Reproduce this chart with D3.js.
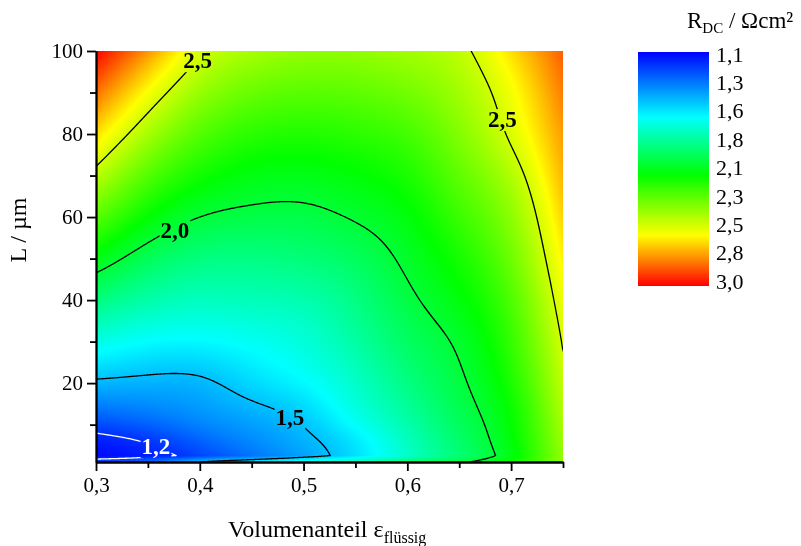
<!DOCTYPE html>
<html>
<head>
<meta charset="utf-8">
<script src="https://cdn.jsdelivr.net/npm/d3@7"></script>
<style>
  body { margin: 0; background: #fff; }
  #wrap { position: relative; width: 801px; height: 546px; }
  #wrap canvas, #wrap svg { position: absolute; left: 0; top: 0; }
  text { font-family: "Liberation Serif", "Times New Roman", serif; }
</style>
</head>
<body>
<div id="wrap">
  <canvas id="heat" width="801" height="546"></canvas>
  <svg id="chart" width="801" height="546"></svg>
</div>
<script>
// Liquid volume fraction (columns of the measurement grid)
const epsValues = [0.30, 0.35, 0.40, 0.45, 0.50, 0.55, 0.60, 0.65, 0.70, 0.75];
// Electrode thickness L in µm (rows of the grid)
const lengthValues = [1, 2.5, 6, 10, 20, 30, 40, 50, 60, 70, 80, 90, 100];

// R_DC in Ωcm² for each volume fraction, listed along lengthValues
const rdcEps030 = [1.27, 1.12, 1.16, 1.25, 1.48, 1.68, 1.87, 2.07, 2.27, 2.46, 2.64, 2.82, 3.00];
const rdcEps035 = [1.33, 1.16, 1.21, 1.30, 1.47, 1.63, 1.79, 1.94, 2.10, 2.26, 2.42, 2.58, 2.76];
const rdcEps040 = [1.50, 1.24, 1.30, 1.37, 1.48, 1.62, 1.75, 1.87, 2.00, 2.13, 2.26, 2.39, 2.52];
const rdcEps045 = [1.60, 1.34, 1.385, 1.43, 1.55, 1.65, 1.76, 1.86, 1.97, 2.07, 2.18, 2.30, 2.42];
const rdcEps050 = [1.69, 1.44, 1.47, 1.505, 1.62, 1.70, 1.78, 1.88, 1.97, 2.06, 2.16, 2.27, 2.38];
const rdcEps055 = [1.79, 1.565, 1.585, 1.64, 1.73, 1.80, 1.86, 1.93, 2.01, 2.09, 2.18, 2.28, 2.38];
const rdcEps060 = [1.885, 1.725, 1.75, 1.785, 1.86, 1.92, 1.975, 2.025, 2.08, 2.15, 2.23, 2.32, 2.41];
const rdcEps065 = [1.98, 1.885, 1.905, 1.93, 1.98, 2.02, 2.08, 2.14, 2.21, 2.28, 2.35, 2.41, 2.47];
const rdcEps070 = [2.12, 2.065, 2.085, 2.10, 2.15, 2.20, 2.25, 2.31, 2.37, 2.44, 2.52, 2.57, 2.64];
const rdcEps075 = [2.38, 2.38, 2.40, 2.42, 2.47, 2.51, 2.56, 2.61, 2.66, 2.71, 2.75, 2.80, 2.85];

// Contour levels and their printed labels
const contourLevels = [1.2, 1.5, 2.0, 2.5];
const contourLevelLabels = ["1,2", "1,5", "2,0", "2,5"];

// Axis ticks
const xTicks = [0.3, 0.4, 0.5, 0.6, 0.7];
const xTickLabels = ["0,3", "0,4", "0,5", "0,6", "0,7"];
const xMinorTicks = [0.35, 0.45, 0.55, 0.65, 0.75];
const yTicks = [20, 40, 60, 80, 100];
const yTickLabels = ["20", "40", "60", "80", "100"];
const yMinorTicks = [10, 30, 50, 70, 90];

// Colour bar levels
const colorbarTicks = [1.1, 1.3375, 1.575, 1.8125, 2.05, 2.2875, 2.525, 2.7625, 3.0];
const colorbarTickLabels = ["1,1", "1,3", "1,6", "1,8", "2,1", "2,3", "2,5", "2,8", "3,0"];
const colorStopValues = [1.1, 1.63, 2.1, 2.59, 3.0];
const colorStopColors = ["#0000ff", "#00ffff", "#00ff00", "#ffff00", "#ff0000"];

// ---------------------------------------------------------------------------
const rdcGrid = [rdcEps030, rdcEps035, rdcEps040, rdcEps045, rdcEps050,
                 rdcEps055, rdcEps060, rdcEps065, rdcEps070, rdcEps075];

const plot = { left: 96, right: 563, top: 51, bottom: 462 };
const x = d3.scaleLinear().domain([0.3, 0.75]).range([plot.left, plot.right]);
const y = d3.scaleLinear().domain([1, 100]).range([plot.bottom, plot.top]);
const color = d3.scaleLinear().domain(colorStopValues).range(colorStopColors).clamp(true);

// Natural cubic spline through (xs, ys)
function naturalSpline(xs, ys) {
  const n = xs.length, h = [], M = new Array(n).fill(0);
  for (let i = 0; i < n - 1; i++) h.push(xs[i + 1] - xs[i]);
  const a = [], b = [], c = [], r = [];
  for (let i = 1; i < n - 1; i++) {
    a.push(h[i - 1]); b.push(2 * (h[i - 1] + h[i])); c.push(h[i]);
    r.push(6 * ((ys[i + 1] - ys[i]) / h[i] - (ys[i] - ys[i - 1]) / h[i - 1]));
  }
  const m = b.length;
  for (let i = 1; i < m; i++) {
    const w = a[i] / b[i - 1];
    b[i] -= w * c[i - 1]; r[i] -= w * r[i - 1];
  }
  for (let i = m - 1; i >= 0; i--) {
    M[i + 1] = (r[i] - (i < m - 1 ? c[i] * M[i + 2] : 0)) / b[i];
  }
  return function (v) {
    v = Math.max(xs[0], Math.min(xs[n - 1], v));
    let k = 0;
    while (k < n - 2 && v > xs[k + 1]) k++;
    const hk = h[k], A = xs[k + 1] - v, B = v - xs[k];
    return M[k] * A * A * A / (6 * hk) + M[k + 1] * B * B * B / (6 * hk)
         + (ys[k] / hk - M[k] * hk / 6) * A + (ys[k + 1] / hk - M[k + 1] * hk / 6) * B;
  };
}

// Along L: straight segment for the thin-electrode edge row, spline above it
function columnCurve(col) {
  const upper = naturalSpline(lengthValues.slice(1), col.slice(1));
  const L0 = lengthValues[0], L1 = lengthValues[1];
  return function (L) {
    if (L >= L1) return upper(L);
    const t = Math.max(0, (L - L0) / (L1 - L0));
    return col[0] + t * (col[1] - col[0]);
  };
}
const columnCurves = rdcGrid.map(columnCurve);

// Sample the surface once per pixel, with a small margin around the plot
const pad = 3;
const x0 = plot.left - pad, y0 = plot.top - pad;
const nx = (plot.right - plot.left) + 2 * pad;
const ny = (plot.bottom - plot.top) + 2 * pad;
const field = new Float64Array(nx * ny);
for (let j = 0; j < ny; j++) {
  const L = y.invert(y0 + j + 0.5);
  const rowCurve = naturalSpline(epsValues, columnCurves.map(f => f(L)));
  for (let i = 0; i < nx; i++) {
    field[j * nx + i] = rowCurve(x.invert(x0 + i + 0.5));
  }
}

// Colour map on canvas
const ctx = document.getElementById("heat").getContext("2d");
const w = plot.right - plot.left, h = plot.bottom - plot.top;
const img = ctx.createImageData(w, h);
for (let j = 0; j < h; j++) {
  for (let i = 0; i < w; i++) {
    const c = d3.rgb(color(field[(j + pad) * nx + (i + pad)]));
    const p = (j * w + i) * 4;
    img.data[p] = c.r; img.data[p + 1] = c.g; img.data[p + 2] = c.b; img.data[p + 3] = 255;
  }
}
ctx.putImageData(img, plot.left, plot.top);

const svg = d3.select("#chart");
const defs = svg.append("defs");
defs.append("clipPath").attr("id", "plotClip")
  .append("rect").attr("x", plot.left).attr("y", plot.top).attr("width", w).attr("height", h);

// Contour labels (placed on their lines)
const labelSpots = [
  { level: 2.5, eps: 0.398, L: 97.8 },
  { level: 2.5, eps: 0.6917, L: 83.6 },
  { level: 2.0, eps: 0.3761, L: 57.0 },
  { level: 1.5, eps: 0.4869, L: 11.8 },
  { level: 1.2, eps: 0.3578, L: 4.85 }
];

const labelLayer = svg.append("g");
const labelNodes = labelLayer.selectAll("text").data(labelSpots).join("text")
  .attr("x", d => x(d.eps)).attr("y", d => y(d.L)).attr("dy", "0.35em")
  .attr("text-anchor", "middle")
  .attr("font-size", 23).attr("font-weight", "bold")
  .attr("fill", d => d.level === 1.2 ? "#fff" : "#000")
  .text(d => contourLevelLabels[contourLevels.indexOf(d.level)]);

// Gaps in the lines behind the labels
const mask = defs.append("mask").attr("id", "labelGaps").attr("maskUnits", "userSpaceOnUse")
  .attr("x", 0).attr("y", 0).attr("width", 801).attr("height", 546);
mask.append("rect").attr("width", 801).attr("height", 546).attr("fill", "#fff");
labelNodes.each(function () {
  const b = this.getBBox();
  mask.append("rect").attr("x", b.x - 1).attr("y", b.y + 2)
    .attr("width", b.width + 2).attr("height", b.height - 3).attr("fill", "#000");
});

const contours = d3.contours().size([nx, ny]).thresholds(contourLevels)(field);
const path = d3.geoPath(d3.geoIdentity().translate([x0, y0]));
svg.insert("g", () => labelLayer.node())
  .attr("clip-path", "url(#plotClip)")
  .append("g").attr("mask", "url(#labelGaps)")
  .selectAll("path").data(contours).join("path")
  .attr("d", path)
  .attr("fill", "none")
  .attr("stroke", d => d.value === 1.2 ? "#fff" : "#000")
  .attr("stroke-width", 1.3)
  .attr("stroke-linejoin", "round");

// Axes
function styleAxis(g) {
  g.selectAll("path, line").attr("stroke", "#000").attr("stroke-width", 1.8);
  g.selectAll("text").attr("fill", "#000").attr("font-size", 21)
    .attr("font-family", "\"Liberation Serif\", \"Times New Roman\", serif");
}
svg.append("g").attr("transform", `translate(0,${plot.bottom})`)
  .call(d3.axisBottom(x).tickValues(xMinorTicks).tickSize(6).tickSizeOuter(0).tickFormat(""))
  .call(styleAxis);
svg.append("g").attr("transform", `translate(0,${plot.bottom})`)
  .call(d3.axisBottom(x).tickValues(xTicks).tickSize(9).tickSizeOuter(0).tickPadding(6)
    .tickFormat((d, i) => xTickLabels[i]))
  .call(styleAxis);
svg.append("g").attr("transform", `translate(${plot.left},0)`)
  .call(d3.axisLeft(y).tickValues(yMinorTicks).tickSize(6).tickSizeOuter(0).tickFormat(""))
  .call(styleAxis);
svg.append("g").attr("transform", `translate(${plot.left},0)`)
  .call(d3.axisLeft(y).tickValues(yTicks).tickSize(9).tickSizeOuter(0).tickPadding(4)
    .tickFormat((d, i) => yTickLabels[i]))
  .call(styleAxis);

// Axis titles
svg.append("text").attr("transform", "translate(26,230) rotate(-90)")
  .attr("text-anchor", "middle").attr("font-size", 24).attr("fill", "#000")
  .text("L / µm");
const xt = svg.append("text").attr("x", 228).attr("y", 537)
  .attr("font-size", 24).attr("fill", "#000");
xt.append("tspan").text("Volumenanteil ε");
xt.append("tspan").attr("dy", 6).attr("font-size", 16).text("flüssig");

// Colour bar
const cb = { left: 638, width: 71, top: 52, bottom: 286 };
const cbScale = d3.scaleLinear().domain([1.1, 3.0]).range([cb.top, cb.bottom]);
const grad = defs.append("linearGradient").attr("id", "cbGrad")
  .attr("x1", 0).attr("y1", 0).attr("x2", 0).attr("y2", 1);
d3.range(0, 1.0001, 0.01).forEach(t => {
  grad.append("stop").attr("offset", t).attr("stop-color", color(cbScale.invert(cb.top + t * (cb.bottom - cb.top))));
});
svg.append("rect").attr("x", cb.left).attr("y", cb.top)
  .attr("width", cb.width).attr("height", cb.bottom - cb.top).attr("fill", "url(#cbGrad)");
const cbLabelScale = cbScale.copy().range([cb.top + 2, cb.bottom - 5]);
svg.append("g").selectAll("text").data(colorbarTicks).join("text")
  .attr("x", 716).attr("y", d => cbLabelScale(d)).attr("dy", "0.35em")
  .attr("font-size", 22).attr("fill", "#000")
  .text((d, i) => colorbarTickLabels[i]);

const ct = svg.append("text").attr("x", 687).attr("y", 28).attr("font-size", 23).attr("fill", "#000");
ct.append("tspan").text("R");
ct.append("tspan").attr("dy", 5).attr("font-size", 15).text("DC");
ct.append("tspan").attr("dy", -5).text(" / Ωcm²");
</script>
</body>
</html>
